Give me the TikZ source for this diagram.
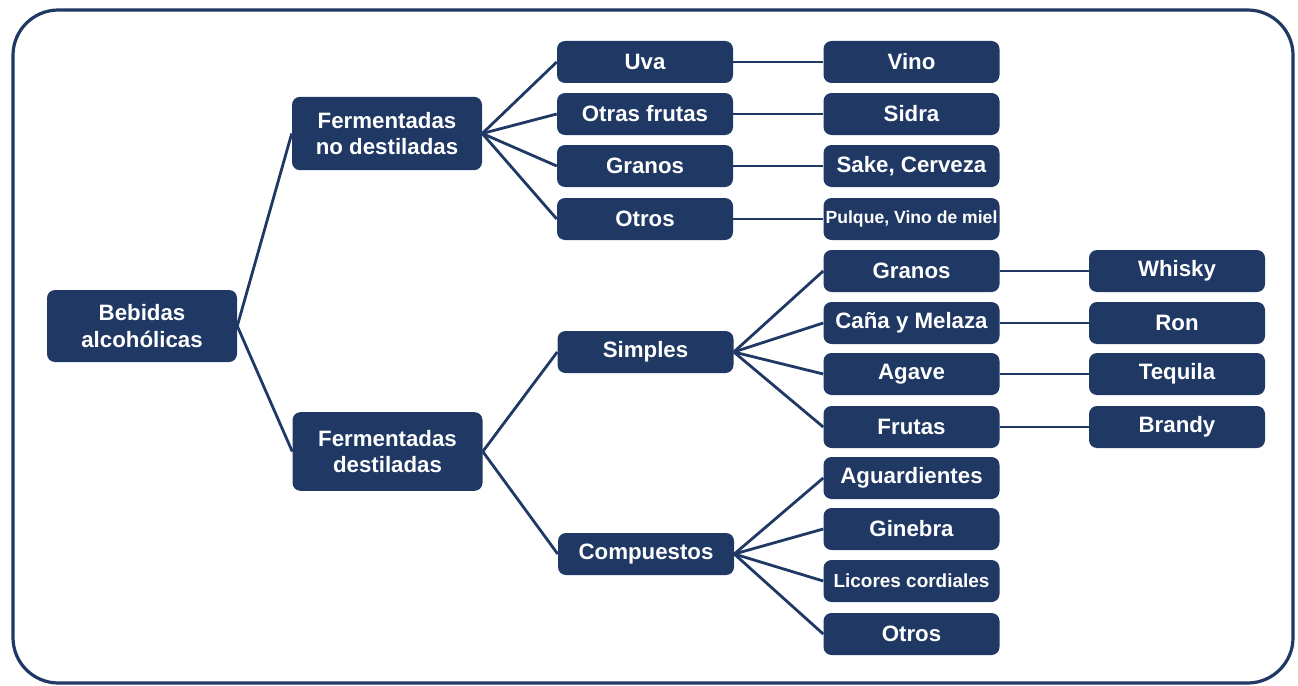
\documentclass[tikz,border=0pt]{standalone}
\usepackage{fontspec}
\setmainfont{Liberation Sans}
\definecolor{navy}{RGB}{31,56,100}
\begin{document}
\begin{tikzpicture}[x=0.75pt,y=-0.75pt,
  box/.style={fill=navy, rounded corners=6pt, text=white, align=center, inner sep=1pt,
    font=\bfseries\fontsize{16.7}{19.8}\selectfont},
  big/.style={box, minimum width=142.5pt},
  small/.style={box, minimum width=132pt, minimum height=31.5pt},
  tiny/.style={small, font=\bfseries\fontsize{13.2}{15}\selectfont},
  mid/.style={small, font=\bfseries\fontsize{14.2}{16}\selectfont},
  link/.style={draw=navy, line width=2.1pt},
  frame/.style={draw=navy, line width=2.4pt, rounded corners=34pt}]
\useasboundingbox (0,0) rectangle (1298,685);
\draw[frame] (13,10) rectangle (1293,683);

\node[big, minimum height=54pt] (beb) at (142,326) {Bebidas\\alcohólicas};
\node[big, minimum height=55pt] (fnd) at (387,133.5) {Fermentadas\\no destiladas};
\node[big, minimum height=59pt] (fd) at (387.5,451.5) {Fermentadas\\destiladas};

\node[small] (uva) at (645,62) {Uva};
\node[small] (otf) at (645,114) {Otras frutas};
\node[small] (gra) at (645,166) {Granos};
\node[small] (otr) at (645,219) {Otros};

\node[small] (vino) at (911.5,62) {Vino};
\node[small] (sidra) at (911.5,114) {Sidra};
\node[small] (sake) at (911.5,166) {Sake, Cerveza};
\node[tiny] (pulque) at (911.5,219) {Pulque, Vino de miel};

\node[small] (simp) at (645.5,352) {Simples};
\node[small] (comp) at (646,554) {Compuestos};

\node[small] (gr2) at (911.5,271) {Granos};
\node[small] (cana) at (911.5,323) {Caña y Melaza};
\node[small] (agave) at (911.5,374) {Agave};
\node[small] (frut) at (911.5,427) {Frutas};

\node[small] (whisky) at (1177,271) {Whisky};
\node[small] (ron) at (1177,323) {Ron};
\node[small] (teq) at (1177,374) {Tequila};
\node[small] (brandy) at (1177,427) {Brandy};

\node[small] (agu) at (911.5,478) {Aguardientes};
\node[small] (gin) at (911.5,529) {Ginebra};
\node[mid] (lic) at (911.5,581) {Licores cordiales};
\node[small] (otr2) at (911.5,634) {Otros};

\draw[link] (beb.east) -- (fnd.west);
\draw[link] (beb.east) -- (fd.west);
\foreach \c in {uva,otf,gra,otr} \draw[link] (fnd.east) -- (\c.west);
\draw[link] (uva.east) -- (vino.west);
\draw[link] (otf.east) -- (sidra.west);
\draw[link] (gra.east) -- (sake.west);
\draw[link] (otr.east) -- (pulque.west);
\draw[link] (fd.east) -- (simp.west);
\draw[link] (fd.east) -- (comp.west);
\foreach \c in {gr2,cana,agave,frut} \draw[link] (simp.east) -- (\c.west);
\draw[link] (gr2.east) -- (whisky.west);
\draw[link] (cana.east) -- (ron.west);
\draw[link] (agave.east) -- (teq.west);
\draw[link] (frut.east) -- (brandy.west);
\foreach \c in {agu,gin,lic,otr2} \draw[link] (comp.east) -- (\c.west);
\end{tikzpicture}
\end{document}
